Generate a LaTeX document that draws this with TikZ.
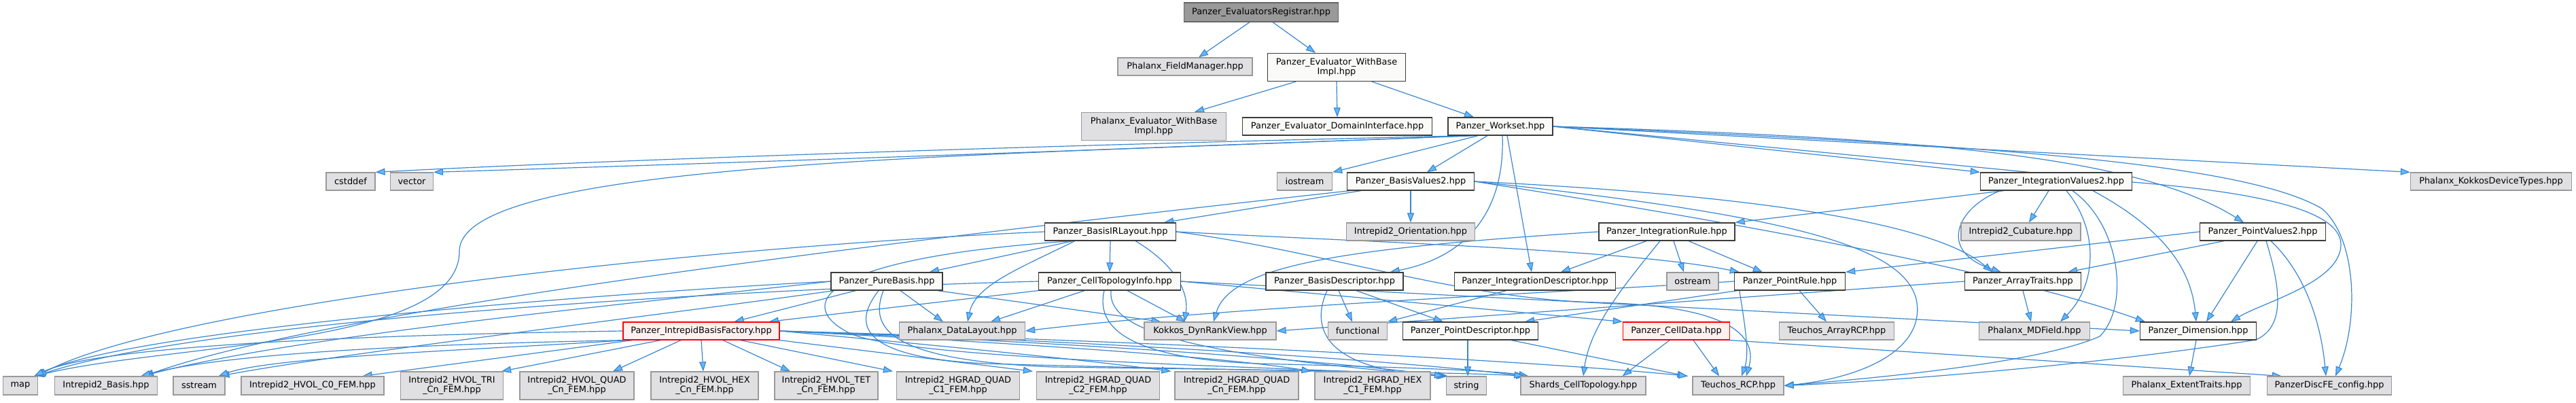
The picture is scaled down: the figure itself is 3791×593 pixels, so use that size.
\documentclass[tikz,border=0pt]{standalone}
\usepackage{fontspec}
\setmainfont{DejaVu Sans}
\usetikzlibrary{arrows.meta,calc}
\pgfdeclarelayer{bg}
\pgfsetlayers{bg,main}
\definecolor{edgecol}{HTML}{3A86D0}
\definecolor{arrowfill}{HTML}{63B8FF}
\definecolor{pzfill}{HTML}{FAFBF8}
\definecolor{pzdraw}{HTML}{3C3C3C}
\definecolor{exfill}{HTML}{E0E0E2}
\definecolor{exdraw}{HTML}{999999}
\definecolor{rdfill}{HTML}{FFF0F0}
\definecolor{rtfill}{HTML}{999999}
\definecolor{rtdraw}{HTML}{666666}
\newcommand{\nodefnt}{\fontsize{12.9pt}{14pt}\selectfont}
\tikzset{
  boxbase/.style={rectangle, inner xsep=3pt, inner ysep=0pt, font=\nodefnt, align=center, minimum height=26pt},
  pz/.style={boxbase, fill=pzfill, draw=pzdraw, line width=1.3pt},
  ex/.style={boxbase, fill=exfill, draw=exdraw, line width=1.2pt},
  rd/.style={boxbase, fill=rdfill, draw=red, line width=1.3pt},
  rt/.style={boxbase, fill=rtfill, draw=rtdraw, line width=1.3pt, minimum height=28pt},
  two/.style={minimum height=41pt},
  e/.style={draw=edgecol, line width=1.2pt, -{Triangle[length=14pt,width=10pt,fill=arrowfill]}}
}
\begin{document}
\begin{tikzpicture}[x=1pt,y=-1pt]
\useasboundingbox (0,0) rectangle (3791,593);
% row 0-2
\node[rt, minimum width=227pt] (r) at (1856,18) {Panzer\_EvaluatorsRegistrar.hpp};
\node[ex, minimum width=198pt] (fm) at (1744,98) {Phalanx\_FieldManager.hpp};
\node[pz, two, minimum width=203pt] (ewbi) at (1967,99) {Panzer\_Evaluator\_WithBase\\Impl.hpp};
\node[ex, two, minimum width=213pt] (pewbi) at (1698,186) {Phalanx\_Evaluator\_WithBase\\Impl.hpp};
\node[pz, minimum width=279pt] (dom) at (1968,186) {Panzer\_Evaluator\_DomainInterface.hpp};
\node[pz, minimum width=154pt] (ws) at (2208,186) {Panzer\_Workset.hpp};
% row 3
\node[ex, minimum width=72pt] (cstddef) at (516,267) {cstddef};
\node[ex, minimum width=63pt] (vector) at (606,267) {vector};
\node[ex, minimum width=81pt] (iostream) at (1920,267) {iostream};
\node[pz, minimum width=187pt] (bv2) at (2076,267) {Panzer\_BasisValues2.hpp};
\node[pz, minimum width=223pt] (iv2) at (3026,267) {Panzer\_IntegrationValues2.hpp};
\node[ex, minimum width=237pt] (kdt) at (3666,267) {Phalanx\_KokkosDeviceTypes.hpp};
% row 4
\node[pz, minimum width=193pt] (bil) at (1634,341) {Panzer\_BasisIRLayout.hpp};
\node[ex, minimum width=189pt] (orient) at (2076,341) {Intrepid2\_Orientation.hpp};
\node[pz, minimum width=200pt] (irule) at (2453,341) {Panzer\_IntegrationRule.hpp};
\node[ex, minimum width=176pt] (cub) at (2974,341) {Intrepid2\_Cubature.hpp};
\node[pz, minimum width=185pt] (pv2) at (3330,341) {Panzer\_PointValues2.hpp};
% row 5
\node[pz, minimum width=164pt] (pb) at (1305,414) {Panzer\_PureBasis.hpp};
\node[pz, minimum width=209pt] (cti) at (1633,414) {Panzer\_CellTopologyInfo.hpp};
\node[pz, minimum width=202pt] (bd) at (1964,414) {Panzer\_BasisDescriptor.hpp};
\node[pz, minimum width=237pt] (idesc) at (2259,414) {Panzer\_IntegrationDescriptor.hpp};
\node[ex, minimum width=76pt] (ostream) at (2491,414) {ostream};
\node[pz, minimum width=163pt] (prule) at (2634,414) {Panzer\_PointRule.hpp};
\node[pz, minimum width=171pt] (at) at (2977,414) {Panzer\_ArrayTraits.hpp};
% row 6
\node[rd, minimum width=230pt] (ibf) at (1032,487) {Panzer\_IntrepidBasisFactory.hpp};
\node[ex, minimum width=185pt] (dl) at (1416,487) {Phalanx\_DataLayout.hpp};
\node[ex, minimum width=194pt] (kdrv) at (1781,487) {Kokkos\_DynRankView.hpp};
\node[ex, minimum width=87pt] (functional) at (1998,487) {functional};
\node[pz, minimum width=199pt] (pdesc) at (2164,487) {Panzer\_PointDescriptor.hpp};
\node[rd, minimum width=157pt] (cdata) at (2467,487) {Panzer\_CellData.hpp};
\node[ex, minimum width=169pt] (arcp) at (2703,487) {Teuchos\_ArrayRCP.hpp};
\node[ex, minimum width=163pt] (mdf) at (2994,487) {Phalanx\_MDField.hpp};
\node[pz, minimum width=171pt] (dim) at (3235,487) {Panzer\_Dimension.hpp};
% row 7
\node[ex, minimum width=51pt, minimum height=27pt] (map) at (30,567.5) {map};
\node[ex, minimum width=151pt, minimum height=27pt] (ibasis) at (156,567.5) {Intrepid2\_Basis.hpp};
\node[ex, minimum width=76pt, minimum height=27pt] (sstream) at (293,567.5) {sstream};
\node[ex, minimum width=210pt, minimum height=27pt] (hc0) at (460,567.5) {Intrepid2\_HVOL\_C0\_FEM.hpp};
\node[ex, two, minimum width=151pt] (htri) at (665,567.5) {Intrepid2\_HVOL\_TRI\\\_Cn\_FEM.hpp};
\node[ex, two, minimum width=168pt] (hquad) at (849,567.5) {Intrepid2\_HVOL\_QUAD\\\_Cn\_FEM.hpp};
\node[ex, two, minimum width=158pt] (hhex) at (1037,567.5) {Intrepid2\_HVOL\_HEX\\\_Cn\_FEM.hpp};
\node[ex, two, minimum width=152pt] (htet) at (1216,567.5) {Intrepid2\_HVOL\_TET\\\_Cn\_FEM.hpp};
\node[ex, two, minimum width=181pt] (gq1) at (1410,567.5) {Intrepid2\_HGRAD\_QUAD\\\_C1\_FEM.hpp};
\node[ex, two, minimum width=181pt] (gq2) at (1616,567.5) {Intrepid2\_HGRAD\_QUAD\\\_C2\_FEM.hpp};
\node[ex, two, minimum width=182pt] (gqn) at (1820,567.5) {Intrepid2\_HGRAD\_QUAD\\\_Cn\_FEM.hpp};
\node[ex, two, minimum width=170pt] (gh1) at (2020,567.5) {Intrepid2\_HGRAD\_HEX\\\_C1\_FEM.hpp};
\node[ex, minimum width=59pt, minimum height=27pt] (string) at (2158,567.5) {string};
\node[ex, minimum width=184pt, minimum height=27pt] (shards) at (2330,567.5) {Shards\_CellTopology.hpp};
\node[ex, minimum width=134pt, minimum height=27pt] (rcp) at (2558,567.5) {Teuchos\_RCP.hpp};
\node[ex, minimum width=187pt, minimum height=27pt] (ext) at (3218,567.5) {Phalanx\_ExtentTraits.hpp};
\node[ex, minimum width=183pt, minimum height=27pt] (dfe) at (3428,567.5) {PanzerDiscFE\_config.hpp};

\begin{pgfonlayer}{bg}
\fill[white] (0,0) rectangle (3791,593);
% registrar / evaluator
\draw[e] ($(r.south)+(-17,0)$) -- ($(fm.north)+(20,0)$);
\draw[e] ($(r.south)+(17,0)$) -- ($(ewbi.north)+(-31,0)$);
\draw[e] ($(ewbi.south)+(-60,0)$) -- ($(pewbi.north)+(60,0)$);
\draw[e] (ewbi.south) -- (dom.north);
\draw[e] ($(ewbi.south)+(52,0)$) -- ($(ws.north)+(-39,0)$);
% workset
\draw[e] ($(ws.south west)+(30,0)$) .. controls (1600,212) and (900,235) .. (cstddef.north east);
\draw[e] ($(ws.south west)+(35,0)$) .. controls (1600,222) and (1000,242) .. (vector.north east);
\draw[e] ($(ws.south west)+(40,0)$) .. controls (1400,230) and (676,238) .. (676,370) .. controls (676,510) and (250,505) .. ($(map.north east)+(-5,0)$);
\draw[e] ($(ws.south west)+(45,0)$) -- (iostream.north east);
\draw[e] ($(ws.south)+(-19,0)$) -- ($(bv2.north)+(24,0)$);
\draw[e] ($(ws.south)+(3,0)$) .. controls (2215,320) and (2150,380) .. ($(bd.north east)+(-20,0)$);
\draw[e] ($(ws.south)+(10,0)$) -- ($(idesc.north)+(-5,0)$);
\draw[e] (ws.east) -- (iv2.north west);
\draw[e] (ws.east) .. controls (2850,203) and (3150,232) .. ($(pv2.north)+(-28,0)$);
\draw[e] (ws.east) -- (kdt.north west);
\draw[e] (ws.east) -- (3138,268) .. controls (3350,285) and (3445,315) .. (3445,360) .. controls (3445,415) and (3330,445) .. ($(dim.north)+(48,0)$);
\draw[e] (ws.east) .. controls (2900,212) and (3300,238) .. (3417,307) .. controls (3468,350) and (3472,470) .. ($(dfe.north)+(9,0)$);
% basis values
\draw[e] ($(bv2.south west)+(21,0)$) -- ($(bil.north east)+(-18,0)$);
\draw[e] (bv2.south) -- (orient.north);
\draw[e] ($(bv2.south west)+(5,0)$) .. controls (1400,345) and (500,450) .. ($(ibasis.north east)+(-20,0)$);
\draw[e] (bv2.east) .. controls (2600,288) and (2850,330) .. ($(at.north)+(-45,0)$);
\draw[e] (bv2.east) .. controls (2600,335) and (2950,400) .. ($(dim.north west)+(8,0)$);
\draw[e] (bv2.east) .. controls (2650,318) and (2800,365) .. (2820,440) .. controls (2835,510) and (2750,555) .. (rcp.east);
% integration values
\draw[e] ($(iv2.south west)+(35,0)$) -- (irule.north east);
\draw[e] ($(iv2.south west)+(30,0)$) .. controls (2880,305) and (2850,370) .. ($(at.north)+(-32,0)$);
\draw[e] ($(iv2.south)+(-11,0)$) -- ($(cub.north)+(12,0)$);
\draw[e] ($(iv2.south)+(15,0)$) .. controls (3090,340) and (3085,420) .. ($(mdf.north)+(38,0)$);
\draw[e] ($(iv2.south)+(24,0)$) .. controls (3120,330) and (3135,450) .. (3090,495) .. controls (3000,535) and (2750,557) .. (rcp.east);
\draw[e] ($(iv2.south)+(54,0)$) .. controls (3190,340) and (3225,400) .. ($(dim.north)+(-3,0)$);
% point values
\draw[e] (pv2.west) -- (prule.north east);
\draw[e] ($(pv2.south west)+(36,0)$) -- ($(at.north east)+(-20,0)$);
\draw[e] ($(pv2.south)+(-8,0)$) -- ($(dim.north)+(12,0)$);
\draw[e] ($(pv2.south)+(5,0)$) .. controls (3355,420) and (3365,480) .. (3320,500) .. controls (3100,535) and (2800,560) .. (rcp.east);
\draw[e] ($(pv2.south)+(12,0)$) .. controls (3390,400) and (3415,470) .. ($(dfe.north)+(-5,0)$);
% integration rule
\draw[e] ($(irule.south)+(-30,0)$) -- ($(idesc.north)+(38,0)$);
\draw[e] ($(irule.south)+(10,0)$) -- ($(ostream.north)+(-13,0)$);
\draw[e] ($(irule.south)+(32,0)$) -- ($(prule.north west)+(42,0)$);
\draw[e] ($(irule.south)+(-10,0)$) .. controls (2390,420) and (2340,480) .. (shards.north);
\draw[e] (irule.west) .. controls (1980,365) and (1810,390) .. ($(kdrv.north)+(5,0)$);
% point rule
\draw[e] ($(prule.south)+(14,0)$) -- ($(arcp.north)+(-15,0)$);
\draw[e] ($(prule.south west)+(5,0)$) -- ($(pdesc.north east)+(-20,0)$);
\draw[e] ($(prule.south west)+(8,0)$) .. controls (2568,480) and (2575,520) .. ($(rcp.north)+(5,0)$);
\draw[e] (prule.west) .. controls (2300,430) and (1800,452) .. (dl.east);
% array traits
\draw[e] (at.south) -- ($(mdf.north)+(-5,0)$);
\draw[e] (at.west) -- (kdrv.east);
% cell topology info
\draw[e] ($(cti.south)+(-37,0)$) -- ($(dl.north)+(42,0)$);
\draw[e] ($(cti.south)+(26,0)$) -- ($(kdrv.north)+(-36,0)$);
\draw[e] (cti.south west) -- ($(ibf.north east)+(-16,0)$);
\draw[e] (cti.west) .. controls (1100,425) and (300,470) .. ($(map.north east)+(-3,0)$);
\draw[e] (cti.east) -- (dim.west);
\draw[e] (cti.east) -- (cdata.north west);
\draw[e] ($(cti.south)+(-8,0)$) .. controls (1610,490) and (1680,528) .. (1850,535) .. controls (2050,540) and (2200,545) .. ($(shards.north west)+(12,0)$);
\draw[e] ($(cti.south)+(2,0)$) .. controls (1630,480) and (1720,520) .. ($(string.north west)+(2,0)$);
% pure basis
\draw[e] ($(pb.south west)+(37,0)$) -- ($(ibf.north east)+(-67,0)$);
\draw[e] ($(pb.south)+(20,0)$) -- ($(dl.north west)+(65,0)$);
\draw[e] ($(pb.south east)+(-8,0)$) -- ($(kdrv.north west)+(25,0)$);
\draw[e] (pb.west) .. controls (1000,425) and (200,480) .. ($(map.north east)+(-4,0)$);
\draw[e] (pb.west) .. controls (1000,440) and (450,490) .. ($(ibasis.north east)+(-22,0)$);
\draw[e] ($(pb.south west)+(5,0)$) .. controls (1000,460) and (500,520) .. ($(sstream.north east)+(-8,0)$);
\draw[e] ($(pb.south)+(-12,0)$) .. controls (1260,470) and (1250,525) .. (1450,535) .. controls (1800,545) and (2000,545) .. ($(string.north west)+(2,0)$);
\draw[e] ($(pb.south)+(-5,0)$) .. controls (1280,480) and (1300,530) .. (1550,540) .. controls (1900,545) and (2150,548) .. ($(shards.north west)+(8,0)$);
% basis IR layout
\draw[e] ($(bil.south west)+(42,0)$) -- ($(pb.north east)+(-20,0)$);
\draw[e] (bil.south) -- (cti.north);
\draw[e] ($(bil.south west)+(45,0)$) .. controls (1500,395) and (1435,420) .. ($(dl.north)+(8,0)$);
\draw[e] ($(bil.south east)+(-60,0)$) .. controls (1730,390) and (1750,430) .. ($(kdrv.north)+(-38,0)$);
\draw[e] (bil.west) .. controls (1000,365) and (250,450) .. ($(map.north east)+(-2,0)$);
\draw[e] ($(bil.south west)+(40,0)$) .. controls (1200,380) and (1170,450) .. (1250,490) .. controls (1330,530) and (1900,540) .. ($(string.north west)+(3,0)$);
\draw[e] (bil.east) .. controls (2050,358) and (2400,368) .. ($(prule.north west)+(8,0)$);
\draw[e] (bil.east) .. controls (1950,370) and (2150,440) .. (2350,445) .. controls (2560,450) and (2585,500) .. ($(rcp.north)+(12,0)$);
% descriptors
\draw[e] ($(bd.south)+(6,0)$) -- ($(functional.north)+(-8,0)$);
\draw[e] ($(bd.south)+(32,0)$) -- ($(pdesc.north west)+(60,0)$);
\draw[e] ($(bd.south)+(-11,0)$) .. controls (1925,490) and (1960,545) .. (string.north west);
\draw[e] ($(idesc.south west)+(77,0)$) -- (functional.north east);
\draw[e] ($(pdesc.south)+(-4,0)$) -- ($(string.north)+(2,0)$);
\draw[e] ($(pdesc.south east)+(-40,0)$) -- ($(rcp.north west)+(-8,0)$);
% cell data
\draw[e] ($(cdata.south)+(-10,0)$) -- ($(shards.north east)+(-35,0)$);
\draw[e] ($(cdata.south)+(25,0)$) -- ($(rcp.north)+(-28,0)$);
\draw[e] (cdata.south east) -- ($(dfe.north west)+(22,0)$);
% dimension
\draw[e] ($(dim.south)+(-3,0)$) -- ($(ext.north)+(4,0)$);
% intrepid basis factory
\draw[e] (ibf.west) .. controls (600,492) and (150,505) .. ($(map.north east)+(-6,0)$);
\draw[e] ($(ibf.south west)+(2,0)$) .. controls (700,505) and (350,515) .. ($(ibasis.north east)+(-25,0)$);
\draw[e] ($(ibf.south west)+(5,0)$) .. controls (700,515) and (400,525) .. ($(sstream.north east)+(-10,0)$);
\draw[e] ($(ibf.south west)+(14,0)$) -- ($(hc0.north east)+(-32,0)$);
\draw[e] ($(ibf.south)+(-60,0)$) -- ($(htri.north east)+(-3,0)$);
\draw[e] ($(ibf.south)+(-30,0)$) -- ($(hquad.north)+(53,0)$);
\draw[e] (ibf.south) -- ($(hhex.north)+(-2,0)$);
\draw[e] ($(ibf.south)+(32,0)$) -- ($(htet.north)+(-53,0)$);
\draw[e] ($(ibf.south)+(58,0)$) -- ($(gq1.north west)+(-5,0)$);
\draw[e] (ibf.south east) -- ($(gq2.north west)+(-5,0)$);
\draw[e] (ibf.east) .. controls (1400,510) and (1600,530) .. ($(gqn.north west)+(-5,0)$);
\draw[e] (ibf.east) .. controls (1500,505) and (1800,525) .. ($(gh1.north west)+(-5,0)$);
\draw[e] (ibf.east) .. controls (1600,505) and (1950,530) .. ($(string.north west)+(-3,0)$);
\draw[e] (ibf.east) .. controls (1700,505) and (2100,535) .. ($(shards.north west)+(5,0)$);
\draw[e] (ibf.east) .. controls (1800,505) and (2300,535) .. ($(rcp.north west)+(-6,0)$);
\end{pgfonlayer}
\end{tikzpicture}
\end{document}
